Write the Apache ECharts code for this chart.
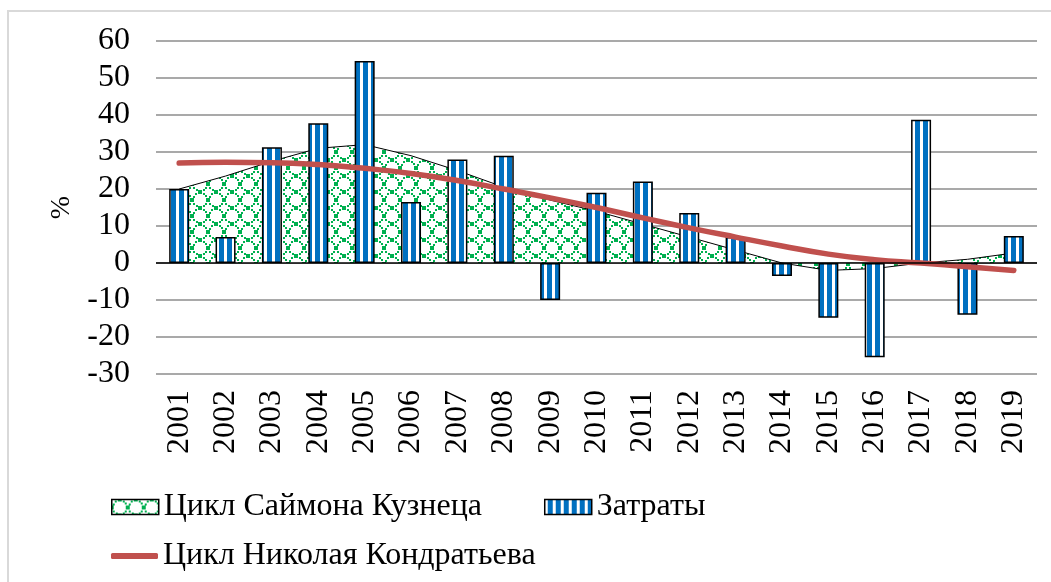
<!DOCTYPE html>
<html>
<head>
<meta charset="utf-8">
<script src="https://cdn.jsdelivr.net/npm/echarts@6/dist/echarts.min.js"></script>
<style>
  html, body { margin: 0; padding: 0; background: #fff; overflow: hidden; }
  #frame { position: absolute; left: 7px; top: 10px; width: 1100px; height: 620px; border: 2px solid #d9d9d9; }
  #main { position: absolute; left: 0; top: 0; width: 1051px; height: 582px; }
</style>
</head>
<body>
<div id="frame"></div>
<div id="main"></div>
<script>
// данные
var years = ['2001','2002','2003','2004','2005','2006','2007','2008','2009','2010',
             '2011','2012','2013','2014','2015','2016','2017','2018','2019'];
var kuznets = [20, 23.5, 27.5, 31, 32, 29, 25, 20.5, 17, 14, 10.5, 7, 3.5, 0, -2, -1.5, 0, 1, 2.7];
var zatraty = [20, 7, 31.3, 37.8, 54.6, 16.5, 28, 29, -10, 19, 22, 13.5, 7, -3.5, -14.8, -25.5, 38.7, -14, 7.3];
var kondratiev = [27, 27.2, 27.1, 26.6, 25.6, 24.2, 22.3, 20, 17.6, 15, 12.2, 9.5, 7, 4.6, 2.4, 0.9, 0, -1, -2];
var yTicks = [-30, -20, -10, 0, 10, 20, 30, 40, 50, 60];

// узоры заливки
function stripes() {
  var c = document.createElement('canvas');
  c.width = 8; c.height = 4;
  var ctx = c.getContext('2d');
  ctx.fillStyle = '#fff'; ctx.fillRect(0, 0, 8, 4);
  ctx.fillStyle = '#0070c0'; ctx.fillRect(3, 0, 5, 4);
  return c;
}
function lattice() {
  var s = 16;
  var c = document.createElement('canvas');
  c.width = s; c.height = s;
  var ctx = c.getContext('2d');
  ctx.fillStyle = '#fff'; ctx.fillRect(0, 0, s, s);
  ctx.fillStyle = '#00b050';
  // кольцо из точек
  for (var k = 0; k < 12; k++) {
    if (k % 3 === 0) continue;
    var a = k * Math.PI / 6;
    var x = Math.round(8 + 7 * Math.cos(a) - 1);
    var y = Math.round(8 + 7 * Math.sin(a) - 1);
    ctx.fillRect(x, y, 2, 2);
  }
  // узлы
  ctx.fillRect(6, 0, 4, 2); ctx.fillRect(6, 14, 4, 2);
  ctx.fillRect(0, 6, 2, 4); ctx.fillRect(14, 6, 2, 4);
  return c;
}
var stripePat = { image: stripes(), repeat: 'repeat' };
var latticePat = { image: lattice(), repeat: 'repeat' };

var font = "'Liberation Serif', 'DejaVu Serif', serif";
var myChart = echarts.init(document.getElementById('main'));
myChart.setOption({
  animation: false,
  textStyle: { fontFamily: font },
  grid: { left: 156, right: 14, top: 41, bottom: 208 },
  legend: [{
    left: 106, top: 486, itemWidth: 47, itemHeight: 15, itemGap: 62,
    textStyle: { fontFamily: font, fontSize: 32, color: '#000' },
    data: [
      { name: 'Цикл Саймона Кузнеца', icon: 'rect', itemStyle: { color: latticePat, borderColor: '#000', borderWidth: 1.5 } },
      { name: 'Затраты', icon: 'rect', itemStyle: { color: stripePat, borderColor: '#000', borderWidth: 1.5 } }
    ]
  }, {
    left: 106, top: 535, itemWidth: 47, itemHeight: 6, itemGap: 10,
    textStyle: { fontFamily: font, fontSize: 32, color: '#000' },
    data: [
      { name: 'Цикл Николая Кондратьева', icon: 'roundRect', itemStyle: { color: '#c0504d' } }
    ]
  }],
  xAxis: {
    type: 'category',
    data: years,
    axisLine: { show: false },
    axisTick: { show: false },
    axisLabel: { rotate: 90, margin: 16, fontFamily: font, fontSize: 32, color: '#000' }
  },
  yAxis: {
    type: 'value',
    min: yTicks[0], max: yTicks[yTicks.length - 1], interval: 10,
    name: '%', nameLocation: 'middle', nameGap: 80, nameRotate: 90,
    nameTextStyle: { fontFamily: font, fontSize: 28, color: '#000' },
    axisLine: { show: false },
    axisTick: { show: false },
    axisLabel: { margin: 26, fontFamily: font, fontSize: 32, color: '#000' },
    splitLine: { lineStyle: { color: '#8c8c8c', width: 1.5 } }
  },
  series: [{
    name: 'Цикл Саймона Кузнеца',
    type: 'line',
    data: kuznets,
    symbol: 'none',
    lineStyle: { color: '#000', width: 1 },
    itemStyle: { color: '#00b050' },
    areaStyle: { color: latticePat, opacity: 1 },
    z: 1
  }, {
    name: 'Затраты',
    type: 'bar',
    data: zatraty,
    barWidth: 20,
    itemStyle: { color: stripePat, borderColor: '#000', borderWidth: 1.5 },
    markLine: {
      silent: true, symbol: 'none', label: { show: false },
      lineStyle: { color: '#000', width: 1.5, type: 'solid' },
      data: [{ yAxis: 0 }]
    },
    z: 2
  }, {
    name: 'Цикл Николая Кондратьева',
    type: 'line',
    data: kondratiev,
    smooth: true,
    symbol: 'none',
    lineStyle: { color: '#c0504d', width: 5.5, cap: 'round' },
    itemStyle: { color: '#c0504d' },
    z: 3
  }]
});
</script>
</body>
</html>
